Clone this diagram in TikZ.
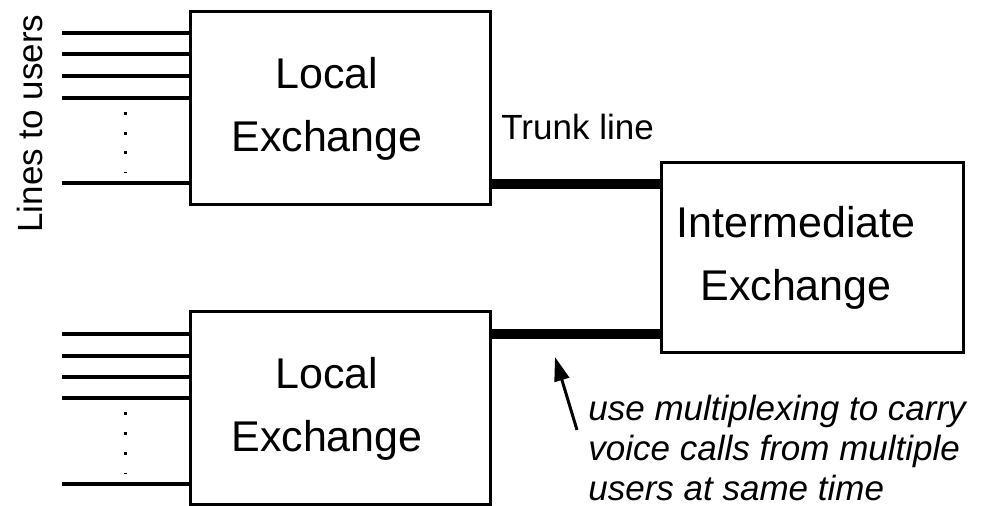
\documentclass[tikz,border=0pt]{standalone}
\usepackage{fontspec}
\setmainfont{Liberation Sans}
\usepackage{tikz}
\usetikzlibrary{arrows.meta,positioning}

\begin{document}
\begin{tikzpicture}[x=0.5pt,y=-0.5pt,
    exchbox/.style={draw, line width=1.5pt, minimum width=150pt, minimum height=96.5pt, inner sep=0pt},
    exchtext/.style={align=center, inner sep=0pt, font=\fontsize{21.5}{31.5}\selectfont},
    smalltext/.style={inner sep=0pt, font=\fontsize{17.5}{20}\selectfont},
    userline/.style={line width=1.7pt},
    trunk/.style={line width=5pt},
    pointer/.style={line width=1.5pt, -{Triangle[length=12pt,width=7.5pt]}}]
  \useasboundingbox (0,0) rectangle (984,506);
  % Local and intermediate exchanges
  \node[exchbox] (upper) at (340,108.5) {};
  \node[exchbox] (lower) at (340,408.5) {};
  \node[exchbox, minimum width=151pt, minimum height=95pt] (mid) at (812,258) {};
  \node[exchtext] (upperlabel) at ([xshift=-6.5pt]upper.center) {Local\\Exchange};
  \node[exchtext] (lowerlabel) at ([xshift=-6.5pt]lower.center) {Local\\Exchange};
  \node[exchtext] (midlabel) at ([xshift=-8pt]mid.center) {Intermediate\\Exchange};
  % Lines to users
  \foreach \y in {33,54,76,98,183}
    \draw[userline] (62,\y) -- (upper.west |- 0,\y);
  \foreach \y in {334,356,377,398,484}
    \draw[userline] (62,\y) -- (lower.west |- 0,\y);
  % Dots between the lines
  \foreach \y in {114,134,153}
    \fill (123.5,\y-1.5) rectangle ++(3,3);
  \fill (123.5,172) rectangle ++(3,1.5);
  \foreach \y in {414,434,454}
    \fill (123.5,\y-1.5) rectangle ++(3,3);
  \fill (123.5,473) rectangle ++(3,1.5);
  \node[smalltext, rotate=90, anchor=base west] (userslabel) at (42,233) {Lines to users};
  % Trunk lines
  \draw[trunk] (upper.east |- 0,184) -- (mid.west |- 0,184);
  \draw[trunk] (lower.east |- 0,334) -- (mid.west |- 0,334);
  \node[smalltext, anchor=base west] (trunklabel) at (501,140) {Trunk line};
  % Note on multiplexing
  \node[smalltext, anchor=north west, align=left, font=\fontsize{17.5}{20}\itshape\selectfont] (note) at (588,395)
    {use multiplexing to carry\\voice calls from multiple\\users at same time};
  \coordinate (tail) at (577,430);
  \coordinate (tip) at (555,357);
  \draw[pointer] (tail) -- (tip);
\end{tikzpicture}
\end{document}
